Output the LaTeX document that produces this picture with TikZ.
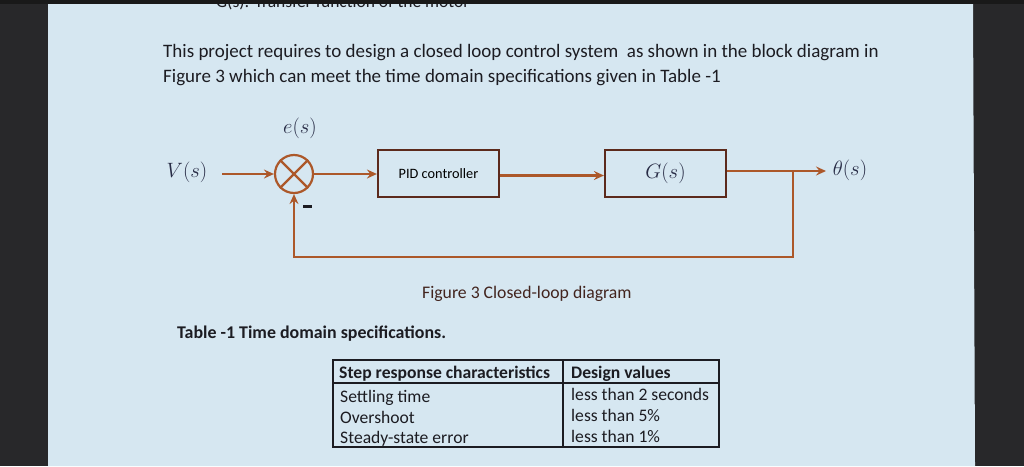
\documentclass[tikz,border=0pt]{standalone}
\usepackage{fontspec}
\setmainfont{Carlito}
\usetikzlibrary{positioning,arrows.meta}

\definecolor{paper}{RGB}{214,231,241}
\definecolor{frame}{RGB}{40,40,42}
\definecolor{wire}{RGB}{172,88,42}
\definecolor{boxline}{RGB}{92,42,28}
\definecolor{ink}{RGB}{28,28,34}
\definecolor{mathink}{RGB}{40,44,70}

\begin{document}
\begin{tikzpicture}[x=1pt,y=-1pt,
	block/.style={draw=boxline,line width=2.2pt,minimum width=121pt,minimum height=47pt,inner sep=0pt},
	sig/.style={draw=wire,line width=2.2pt,-{Stealth[length=10pt,width=9pt,inset=3.5pt]}},
	txt/.style={anchor=base west,text=ink,inner sep=0pt,font=\fontsize{19}{22}\selectfont},
	cell/.style={anchor=base west,text=ink,inner sep=0pt,font=\fontsize{17.6}{20}\selectfont},
	sym/.style={text=mathink,inner sep=0pt,font=\fontsize{21}{24}\selectfont}]
	\useasboundingbox (0,0) rectangle (1024,466);
	\fill[frame] (0,0) rectangle (1024,466);
	\fill[black!90] (0,0) rectangle (1024,4);
	\fill[paper] (48,4) -- (973,4) -- (975,466) -- (48,466) -- cycle;
	
	% heading cut off by the screen edge
	\begin{scope}
		\clip (48,4) -- (973,4) -- (975,466) -- (48,466) -- cycle;
		\node[txt,font=\fontsize{17.5}{20}\selectfont] (head) at (216,7) {G(s): Transfer function of the motor};
	\end{scope}
	
	\node[txt] (intro1) at (163,57) {This project requires to design a closed loop control system \ as shown in the block diagram in};
	\node[txt] (intro2) at (163,82) {Figure 3 which can meet the time domain specifications given in Table -1};
	
	% block diagram
	\node[circle,draw=wire,line width=2.2pt,minimum size=38pt,inner sep=0pt] (sum) at (294,174) {};
	\draw[wire,line width=2.2pt] (sum.north west) -- (sum.south east) (sum.north east) -- (sum.south west);
	\node[sym] (vin) at (187,172) {$V(s)$};
	\node[sym] (err) at (300,128) {$e(s)$};
	\node[block] (pid) at (438.5,173.5) {\fontsize{14.3}{16}\selectfont PID controller};
	\node[block] (plant) at (665.5,173.5) {\textcolor{mathink}{\fontsize{21}{24}\selectfont$G(s)$}};
	\node[sym] (out) at (850,170) {$\theta(s)$};
	\node[fill=ink,minimum width=9pt,minimum height=3pt,inner sep=0pt] (minus) at (307,206) {};
	\coordinate (vstart) at (222,174);
	\coordinate (outend) at (826,171);
	\coordinate (tap) at (793,171);
	\coordinate (fb) at (793,257);
	
	\draw[sig] (vstart) -- (sum.west);
	\draw[sig] (sum.east) -- (sum.east -| pid.west);
	\draw[sig] ([yshift=-2pt]pid.east) -- ([yshift=-2pt]plant.west);
	\draw[sig] (plant.east |- outend) -- (outend);
	\draw[sig] (tap) -- (fb) -| (sum.south);
	
	\node[txt,font=\fontsize{17.7}{20}\selectfont,text=boxline!60!ink] (caption) at (422,298) {Figure 3 Closed-loop diagram};
	\node[txt,font=\fontsize{17.9}{20}\selectfont\bfseries] (tabtitle) at (177,338) {Table -1 Time domain specifications.};
	
	% table
	\draw[ink,line width=1.2pt] (333,360) rectangle (719,447);
	\draw[ink,line width=1.2pt] (333,383) -- (719,383);
	\draw[ink,line width=1.2pt] (563,360) -- (563,447);
	\node[cell,font=\fontsize{17.6}{20}\selectfont\bfseries] (h1) at (339,378) {Step response characteristics};
	\node[cell,font=\fontsize{17.6}{20}\selectfont\bfseries] (h2) at (571,378) {Design values};
	\node[cell] (r1a) at (340,402) {Settling time};
	\node[cell] (r1b) at (571,400) {less than 2 seconds};
	\node[cell] (r2a) at (340,423) {Overshoot};
	\node[cell] (r2b) at (571,421) {less than 5\%};
	\node[cell] (r3a) at (340,443) {Steady-state error};
	\node[cell] (r3b) at (571,442) {less than 1\%};
\end{tikzpicture}
\end{document}
